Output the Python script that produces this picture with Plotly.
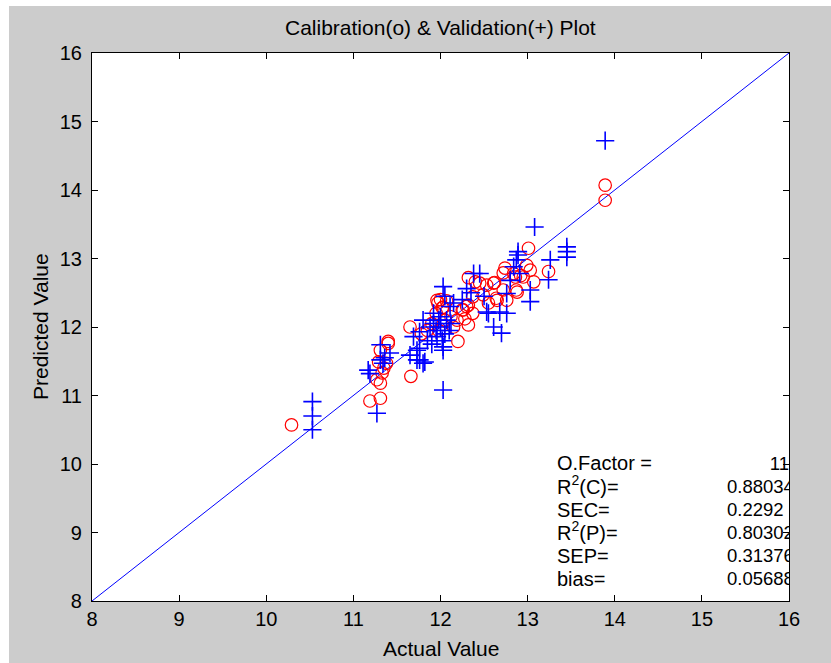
import plotly.graph_objects as go

# ---------------- data ----------------
cal_actual = [10.29, 11.19, 11.31, 11.27, 11.31, 11.33, 11.29, 11.38, 11.31, 11.40, 11.35,
              11.66, 11.65, 11.40, 11.78, 11.85, 11.90, 11.95, 11.97, 12.02, 12.07, 11.98,
              12.05, 12.12, 12.00, 12.32, 12.20, 12.37, 12.25, 12.30, 12.15, 12.28,
              12.32, 12.40, 12.61, 12.72, 12.74, 12.86, 12.88, 12.76, 12.65, 12.49, 12.37,
              12.32, 12.26, 11.96, 12.03, 12.19, 12.84, 12.95, 12.87, 12.72, 12.64, 12.53,
              12.45, 12.55, 12.62, 13.01, 13.24, 13.07, 13.03, 12.99, 12.92, 13.89, 13.89]
cal_pred = [10.57, 10.92, 10.96, 11.23, 11.18, 11.33, 11.49, 11.47, 11.66, 11.76, 11.40,
            11.28, 12.00, 11.79, 11.90, 11.95, 12.05, 12.20, 12.35, 12.28, 12.38, 11.95,
            12.10, 12.15, 12.40, 12.03, 11.79, 12.20, 12.25, 12.30, 12.00, 12.12,
            12.72, 12.66, 12.64, 12.79, 12.86, 12.73, 12.51, 12.39, 12.39, 12.47, 12.44,
            12.32, 12.25, 12.39, 12.29, 12.10, 12.78, 12.73, 12.54, 12.54, 12.42, 12.61,
            12.64, 12.35, 12.65, 13.15, 12.81, 12.66, 12.83, 12.90, 12.75, 14.07, 13.85]

val_actual = [10.53, 10.53, 10.53, 11.27, 11.17, 11.19, 11.31, 11.42, 11.34, 11.31, 11.76,
              11.80, 11.65, 11.76, 11.36, 12.03, 11.73, 11.82, 11.73, 11.69, 11.76, 11.88,
              11.96, 12.03, 12.07, 11.92, 12.11, 11.85, 11.90, 11.95, 12.00, 12.05, 11.98,
              12.10, 11.92, 12.02, 12.12, 11.80, 12.00, 13.03, 12.61, 12.70, 12.53, 12.76,
              12.03, 13.45, 13.45, 13.45, 13.26, 13.24, 13.03, 12.89, 12.87, 12.91, 12.84,
              12.80, 12.76, 12.68, 12.50, 12.45, 12.89, 12.03, 12.38, 12.30, 12.55, 12.05,
              12.15, 12.25, 12.35, 13.08, 13.89]
val_pred = [10.91, 10.70, 10.50, 10.74, 11.37, 11.32, 11.74, 11.62, 11.47, 11.52, 11.52,
            11.47, 11.59, 11.69, 11.55, 11.08, 11.66, 11.49, 11.52, 11.86, 11.93, 12.00,
            11.86, 11.71, 12.10, 12.20, 12.30, 11.80, 11.75, 11.95, 12.00, 11.90, 12.10,
            11.95, 12.05, 11.80, 12.05, 12.10, 12.15, 12.37, 12.00, 11.91, 12.22, 12.20,
            11.66, 13.17, 13.10, 13.02, 12.98, 12.69, 12.54, 13.10, 12.98, 12.78, 12.88,
            12.68, 12.49, 12.22, 12.45, 12.78, 13.05, 12.59, 12.78, 12.56, 12.20, 12.45,
            12.35, 12.40, 12.50, 13.46, 14.72]

ideal_line = [8, 16]
x_ticks = [8, 9, 10, 11, 12, 13, 14, 15, 16]
y_ticks = [8, 9, 10, 11, 12, 13, 14, 15, 16]

stat_labels = ["O.Factor =", "R<sup>2</sup>(C)=", "SEC=", "R<sup>2</sup>(P)=", "SEP=", "bias="]
stat_values = ["11", "0.88034", "0.2292", "0.80302", "0.31376", "0.056887"]

# ---------------- layout constants (pixels) ----------------
W, H = 831, 663
L, R, T, B = 92, 42, 53, 62
pw, ph = W - L - R, H - T - B
FONT = "Liberation Sans"
GRAY = "#cccccc"


def px2x(p):
    return 8 + (p - L) / pw * 8


def py2y(p):
    return 8 + (H - B - p) / ph * 8


fig = go.Figure()
fig.add_trace(go.Scatter(x=ideal_line, y=ideal_line, mode="lines",
                         line=dict(color="#0000ff", width=1), hoverinfo="skip"))
fig.add_trace(go.Scatter(x=cal_actual, y=cal_pred, mode="markers",
                         marker=dict(symbol="circle-open", size=12.5, color="#ff0000",
                                     line=dict(width=1.2, color="#ff0000"))))
fig.add_trace(go.Scatter(x=val_actual, y=val_pred, mode="markers",
                         marker=dict(symbol="cross-thin-open", size=13, color="#0000ff",
                                     line=dict(width=1.6, color="#0000ff"))))

# statistics block drawn as text traces so that it is clipped at the axes box
row_px = [465, 488.5, 511.5, 534.5, 557.5, 580.5]
row_y = [py2y(p) for p in row_px]
label_font = dict(family=FONT, size=20, color="black")
value_font = dict(family=FONT, size=18.5, color="black")
fig.add_trace(go.Scatter(x=[px2x(557)] * len(stat_labels), y=row_y, mode="text",
                         text=stat_labels, textposition="middle right",
                         textfont=label_font, cliponaxis=True, hoverinfo="skip"))
fig.add_trace(go.Scatter(x=[px2x(727)] * (len(stat_values) - 1), y=row_y[1:], mode="text",
                         text=stat_values[1:], textposition="middle right",
                         textfont=value_font, cliponaxis=True, hoverinfo="skip"))
fig.add_trace(go.Scatter(x=[16], y=row_y[:1], mode="text",
                         text=stat_values[:1], textposition="middle left",
                         textfont=value_font, cliponaxis=True, hoverinfo="skip"))

annotations = [
    dict(x=0.5, y=(H - B - 28) / ph, xref="paper", yref="paper",
         text="Calibration(o) & Validation(+) Plot", showarrow=False,
         xanchor="center", yanchor="middle", font=dict(family=FONT, size=21, color="black")),
    dict(x=0.5, y=(H - B - 648) / ph, xref="paper", yref="paper",
         text="Actual Value", showarrow=False,
         xanchor="center", yanchor="middle", font=dict(family=FONT, size=21, color="black")),
    dict(x=(40 - L) / pw, y=0.5, xref="paper", yref="paper",
         text="Predicted Value", showarrow=False, textangle=-90,
         xanchor="center", yanchor="middle", font=dict(family=FONT, size=21, color="black")),
]

shapes = [
    # white strips at top and left edges
    dict(type="rect", xref="paper", yref="paper", x0=-L / pw, x1=1 + R / pw,
         y0=(H - B - 6) / ph, y1=1 + T / ph + 0.01, fillcolor="white", line=dict(width=0),
         layer="below"),
    dict(type="rect", xref="paper", yref="paper", x0=-L / pw - 0.01, x1=(9 - L) / pw,
         y0=-B / ph - 0.01, y1=1 + T / ph + 0.01, fillcolor="white", line=dict(width=0),
         layer="below"),
]

axis_common = dict(range=[8, 16], showgrid=False, zeroline=False, showline=True,
                   linecolor="black", linewidth=1.2, mirror="ticks", ticks="inside",
                   ticklen=6, tickcolor="black", tickwidth=1.2,
                   tickfont=dict(family=FONT, size=20, color="black"))

fig.update_layout(
    width=W, height=H,
    margin=dict(l=L, r=R, t=T, b=B),
    paper_bgcolor=GRAY, plot_bgcolor="white",
    showlegend=False,
    xaxis=dict(**axis_common, tickvals=x_ticks, ticktext=[str(v) for v in x_ticks]),
    yaxis=dict(**axis_common, tickvals=y_ticks, ticktext=[str(v) for v in y_ticks],
               ticklabelstandoff=5),
    annotations=annotations,
    shapes=shapes,
)

fig.write_html("out.html")
